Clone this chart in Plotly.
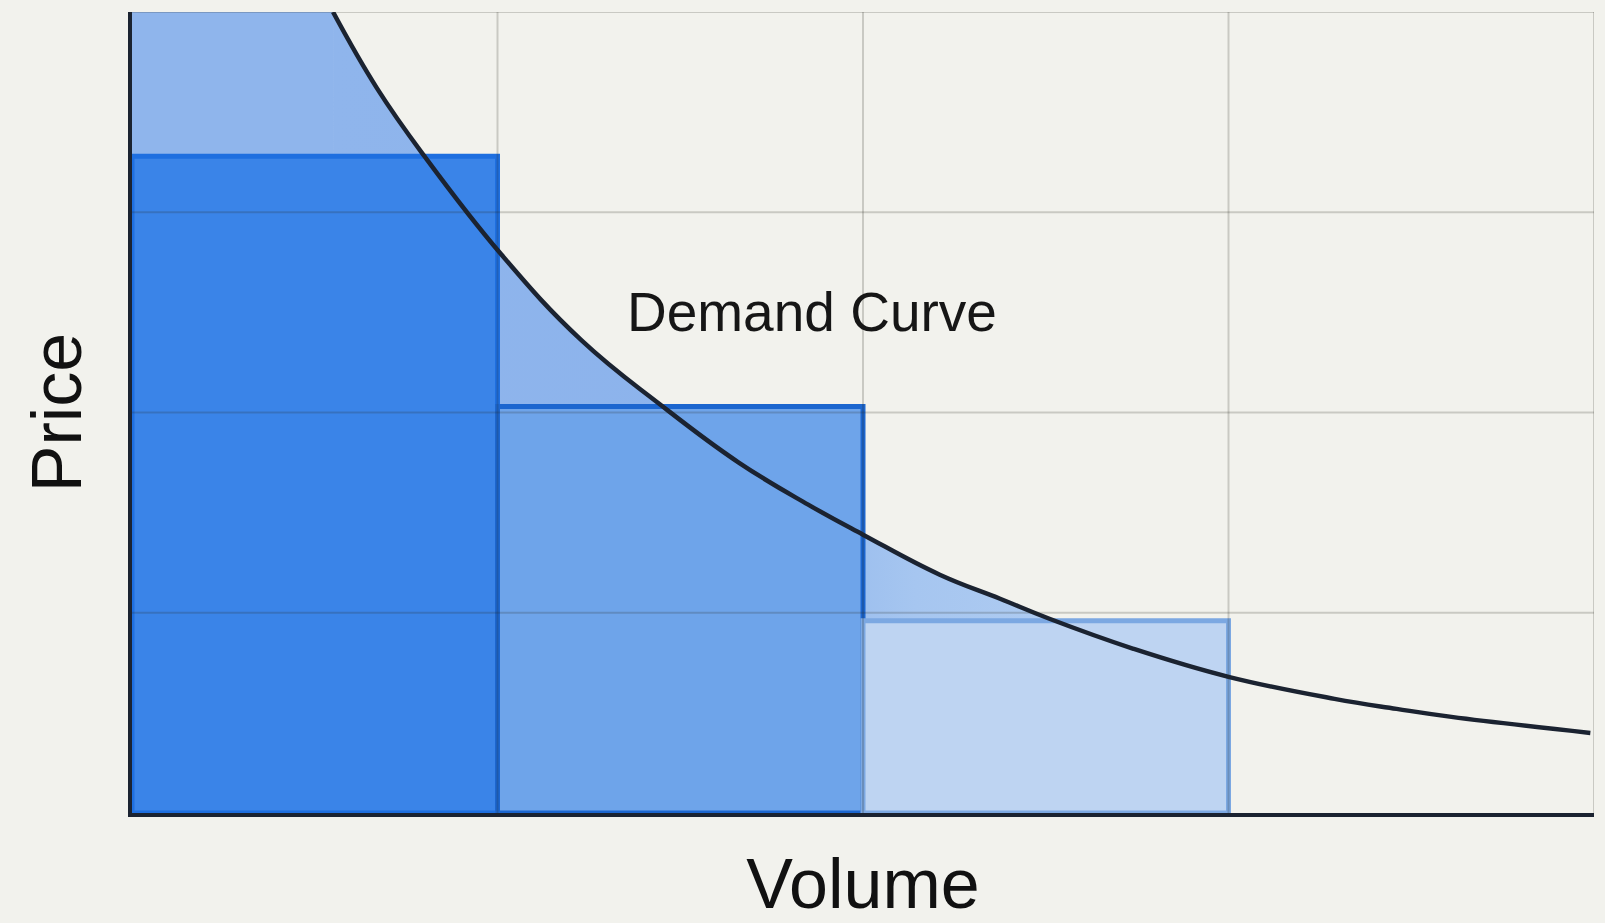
import plotly.graph_objects as go

# ---- data ----
curve_x = [0.55, 0.67, 0.80, 1.01, 1.23, 1.445, 1.66, 1.85, 2.00, 2.21, 2.375, 2.51, 2.74, 3.00,
           3.29, 3.46, 3.61, 3.99]
curve_y = [4.00, 3.62, 3.28, 2.79, 2.36, 2.04, 1.75, 1.54, 1.39, 1.19, 1.07, 0.97, 0.82, 0.68,
           0.57, 0.52, 0.48, 0.40]

bar_left = [0, 1, 2]
bar_right = [1, 2, 3]
bar_height = [3.28, 2.03, 0.96]
bar_fill = ["#3a84e8", "#6ea4ea", "#bed4f2"]
bar_line = ["#1e6fe0", "#1c66cf", "#7ca8e2"]

grid_ticks = [0, 1, 2, 3, 4]

BG = "#f2f2ed"

fig = go.Figure()

# area under the demand curve (covering volumes 0..3)
x0c, y0c = curve_x[0], curve_y[0]
fig.add_trace(go.Scatter(
    x=[0, 0, x0c, x0c, 0], y=[0, y0c, y0c, 0, 0], mode="lines", line=dict(width=0),
    fill="toself", fillcolor="#8fb5ec", hoverinfo="skip", showlegend=False))
n_fill = sum(1 for v in curve_x if v <= 3.0)
fig.add_trace(go.Scatter(
    x=curve_x[:n_fill], y=curve_y[:n_fill], mode="lines",
    line=dict(width=0, shape="spline", smoothing=1.2),
    fill="tozeroy",
    fillgradient=dict(type="horizontal", colorscale=[[0, "#8fb5ec"], [0.45, "#8cb3ec"], [0.65, "#a6c6f0"], [1, "#b8d1f2"]]),
    hoverinfo="skip", showlegend=False))

# stepped blocks
for l, r, h, fc, lc in zip(bar_left, bar_right, bar_height, bar_fill, bar_line):
    fig.add_trace(go.Scatter(
        x=[l, l, r, r, l], y=[0, h, h, 0, 0], mode="lines", fill="toself",
        fillcolor=fc, line=dict(color=lc, width=5), hoverinfo="skip", showlegend=False))

# demand curve
fig.add_trace(go.Scatter(
    x=curve_x, y=curve_y, mode="lines",
    line=dict(color="#1b2331", width=4.5, shape="spline", smoothing=1.2),
    hoverinfo="skip", showlegend=False))

# grid lines drawn translucently above the shaded shapes
shapes = []
for t in grid_ticks[1:]:
    shapes.append(dict(type="line", xref="x", yref="paper", x0=t, x1=t, y0=0, y1=1,
                       line=dict(color="rgba(40,40,30,0.2)", width=2), layer="above"))
    shapes.append(dict(type="line", xref="paper", yref="y", x0=0, x1=1, y0=t, y1=t,
                       line=dict(color="rgba(40,40,30,0.2)", width=2), layer="above"))

fig.add_annotation(x=1.86, y=2.50, text="Demand Curve", showarrow=False,
                   font=dict(family="Liberation Sans, Arial", size=55, color="#161616"))

fig.update_layout(
    width=1605, height=923,
    margin=dict(l=132, r=11, t=12, b=110, autoexpand=False),
    paper_bgcolor=BG, plot_bgcolor=BG,
    shapes=shapes,
    font=dict(family="Liberation Sans, Arial", color="#111111"),
)
fig.update_xaxes(range=[0, 4], showgrid=False, zeroline=False, showticklabels=False, ticks="",
                 showline=True, linecolor="#1b2331", linewidth=4, automargin=False,
                 title=dict(text="Volume", font=dict(size=70, color="#111111"), standoff=60))
fig.update_yaxes(range=[0, 4], showgrid=False, zeroline=False, showticklabels=False, ticks="",
                 showline=True, linecolor="#1b2331", linewidth=4, automargin=False,
                 title=dict(text="Price", font=dict(size=70, color="#111111"), standoff=25))

fig.write_html("out.html", config={"displayModeBar": False},
               post_script="document.body.style.margin='0';document.body.style.overflow='hidden';")
